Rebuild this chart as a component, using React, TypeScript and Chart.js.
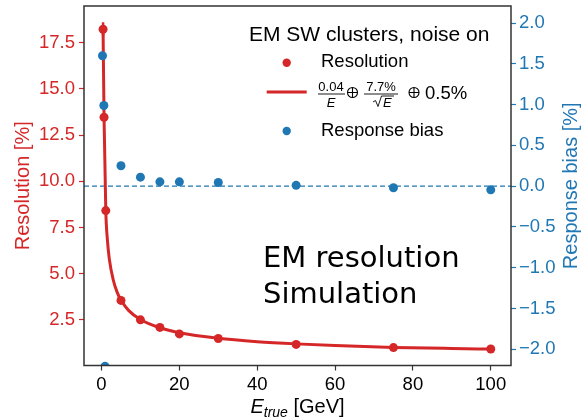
import React, { useEffect, useRef } from "react";
import { Chart, registerables } from "chart.js";

Chart.register(...registerables);

// ---- data ----
const resEnergy = [0.4, 0.65, 1.1, 5, 10, 15, 20, 30, 50, 75, 100];
const resValues = [18.22, 13.46, 8.41, 3.55, 2.5, 2.09, 1.74, 1.49, 1.17, 1.0, 0.92];
const resErrors = [0.38, 0.15, 0.08, 0.03, 0.02, 0.02, 0.02, 0.01, 0.01, 0.01, 0.01];
const biasEnergy = [0.25, 0.6, 0.9, 5, 10, 15, 20, 30, 50, 75, 100];
const biasValues = [1.6, 0.99, -2.21, 0.25, 0.11, 0.053, 0.053, 0.045, 0.01, -0.02, -0.045];
const fitEnergy = [0.4, 0.65, 1.1, 1.5, 2, 3, 4, 5, 7, 10, 15, 20, 30, 40, 50, 60, 75, 90, 100];
const fitValues = [18.2, 13.45, 8.4, 6.85, 5.8, 4.67, 4.0, 3.57, 3.0, 2.52, 2.07, 1.8, 1.5, 1.32, 1.2, 1.11, 1.01, 0.95, 0.92];
const xTicks = [0, 20, 40, 60, 80, 100];
const resTicks = [2.5, 5, 7.5, 10, 12.5, 15, 17.5];
const biasTicks = [-2, -1.5, -1, -0.5, 0, 0.5, 1, 1.5, 2];
const xRange = [-4.5, 105.2];
const resRange = [0.03, 19.48];
const biasRange = [-2.2, 2.21];

const RED = "#d62728";
const BLUE = "#1f77b4";
const FONT = "'Liberation Sans', Arial, Helvetica, sans-serif";

function drawOplus(ctx: CanvasRenderingContext2D, cx: number, cy: number, r: number) {
  ctx.beginPath();
  ctx.arc(cx, cy, r, 0, Math.PI * 2);
  ctx.moveTo(cx - r, cy);
  ctx.lineTo(cx + r, cy);
  ctx.moveTo(cx, cy - r);
  ctx.lineTo(cx, cy + r);
  ctx.stroke();
}

const overlay = {
  id: "overlay",
  beforeDatasetsDraw(chart: any) {
    const { ctx, scales } = chart;
    const x = scales.x;
    const y = scales.y;
    ctx.save();
    ctx.strokeStyle = RED;
    ctx.lineWidth = 2.5;
    resEnergy.forEach((e, i) => {
      const px = x.getPixelForValue(e);
      ctx.beginPath();
      ctx.moveTo(px, y.getPixelForValue(resValues[i] - resErrors[i]));
      ctx.lineTo(px, y.getPixelForValue(resValues[i] + resErrors[i]));
      ctx.stroke();
    });
    ctx.restore();
  },
  afterDraw(chart: any) {
    const { ctx, chartArea } = chart;
    const { left, right, top, bottom } = chartArea;
    ctx.save();
    // frame
    ctx.strokeStyle = "#333";
    ctx.lineWidth = 1.5;
    ctx.strokeRect(left, top, right - left, bottom - top);

    // axis titles
    ctx.font = `20px ${FONT}`;
    ctx.textAlign = "center";
    ctx.textBaseline = "middle";
    ctx.fillStyle = RED;
    ctx.save();
    ctx.translate(23, (top + bottom) / 2);
    ctx.rotate(-Math.PI / 2);
    ctx.fillText("Resolution [%]", 0, 0);
    ctx.restore();
    ctx.fillStyle = BLUE;
    ctx.save();
    ctx.translate(571, (top + bottom) / 2);
    ctx.rotate(-Math.PI / 2);
    ctx.fillText("Response bias [%]", 0, 0);
    ctx.restore();

    // x title: E_true [GeV]
    ctx.fillStyle = "#000";
    ctx.textBaseline = "alphabetic";
    ctx.textAlign = "left";
    const big = `italic 20px ${FONT}`;
    const sub = `italic 14px ${FONT}`;
    const reg = `20px ${FONT}`;
    ctx.font = big;
    const wE = ctx.measureText("E").width;
    ctx.font = sub;
    const wT = ctx.measureText("true").width;
    ctx.font = reg;
    const wG = ctx.measureText(" [GeV]").width;
    const total = wE + wT + wG;
    let cx = (left + right) / 2 - total / 2;
    const base = 413;
    ctx.font = big;
    ctx.fillText("E", cx, base);
    cx += wE;
    ctx.font = sub;
    ctx.fillText("true", cx, base + 4);
    cx += wT;
    ctx.font = reg;
    ctx.fillText(" [GeV]", cx, base);

    // legend
    ctx.fillStyle = "#000";
    ctx.font = `21px ${FONT}`;
    ctx.fillText("EM SW clusters, noise on", 249, 40.7);
    ctx.font = `18.5px ${FONT}`;
    ctx.fillStyle = RED;
    ctx.beginPath();
    ctx.arc(286.7, 62.7, 4.2, 0, Math.PI * 2);
    ctx.fill();
    ctx.fillStyle = "#000";
    ctx.fillText("Resolution", 321, 67.3);
    ctx.strokeStyle = RED;
    ctx.lineWidth = 3;
    ctx.beginPath();
    ctx.moveTo(266.7, 92);
    ctx.lineTo(306.7, 92);
    ctx.stroke();
    // math label
    ctx.fillStyle = "#000";
    ctx.strokeStyle = "#000";
    ctx.textAlign = "center";
    ctx.font = `13px ${FONT}`;
    ctx.fillText("0.04", 331, 91);
    ctx.font = `italic 13px ${FONT}`;
    ctx.fillText("E", 331, 106.5);
    ctx.lineWidth = 0.9;
    ctx.beginPath();
    ctx.moveTo(318, 94);
    ctx.lineTo(345, 94);
    ctx.stroke();
    ctx.lineWidth = 1.1;
    drawOplus(ctx, 352.5, 92.5, 5);
    ctx.font = `13px ${FONT}`;
    ctx.fillText("7.7%", 381, 91);
    ctx.lineWidth = 0.9;
    ctx.beginPath();
    ctx.moveTo(364, 94);
    ctx.lineTo(398, 94);
    ctx.stroke();
    // radical
    ctx.beginPath();
    ctx.moveTo(373, 102);
    ctx.lineTo(375.5, 100.5);
    ctx.lineTo(378, 106.5);
    ctx.lineTo(381.5, 96);
    ctx.lineTo(394, 96);
    ctx.stroke();
    ctx.font = `italic 13px ${FONT}`;
    ctx.textAlign = "left";
    ctx.fillText("E", 383, 106.5);
    ctx.lineWidth = 1.1;
    drawOplus(ctx, 414, 92.5, 5);
    ctx.font = `18.5px ${FONT}`;
    ctx.fillText("0.5%", 425, 98.5);
    // response bias entry
    ctx.fillStyle = BLUE;
    ctx.beginPath();
    ctx.arc(286.7, 131, 4.2, 0, Math.PI * 2);
    ctx.fill();
    ctx.fillStyle = "#000";
    ctx.font = `18.5px ${FONT}`;
    ctx.fillText("Response bias", 321, 135.5);

    // overlaid annotation
    ctx.font = `29px 'DejaVu Sans', sans-serif`;
    ctx.fillStyle = "#000";
    ctx.fillText("EM resolution", 263, 266.7);
    ctx.fillText("Simulation", 263, 303.3);
    ctx.restore();
  },
};

export default function App() {
  const canvasRef = useRef<HTMLCanvasElement | null>(null);

  useEffect(() => {
    document.body.style.margin = "0";
    const canvas = canvasRef.current;
    if (!canvas) return;
    const noPadV = (s: any) => {
      s.paddingTop = 0;
      s.paddingBottom = 0;
    };
    const chart = new Chart(canvas, {
      type: "scatter",
      data: {
        datasets: [
          {
            label: "Response bias",
            data: biasEnergy.map((e, i) => ({ x: e, y: biasValues[i] })),
            yAxisID: "y2",
            backgroundColor: BLUE,
            borderColor: BLUE,
            pointRadius: 4.5,
            pointBorderWidth: 0,
            showLine: false,
            clip: 0,
            order: 0,
          },
          {
            label: "Resolution",
            data: resEnergy.map((e, i) => ({ x: e, y: resValues[i] })),
            yAxisID: "y",
            backgroundColor: RED,
            borderColor: RED,
            pointRadius: 4.5,
            pointBorderWidth: 0,
            showLine: false,
            order: 1,
          },
          {
            label: "Fit",
            data: fitEnergy.map((e, i) => ({ x: e, y: fitValues[i] })),
            yAxisID: "y",
            borderColor: RED,
            backgroundColor: RED,
            borderWidth: 3,
            pointRadius: 0,
            showLine: true,
            cubicInterpolationMode: "monotone",
            order: 2,
          },
          {
            label: "zero",
            data: [
              { x: xRange[0], y: 0 },
              { x: xRange[1], y: 0 },
            ],
            yAxisID: "y2",
            borderColor: BLUE,
            borderWidth: 1.3,
            borderDash: [5, 3],
            pointRadius: 0,
            showLine: true,
            order: 3,
          },
        ],
      } as any,
      options: {
        animation: false,
        responsive: false,
        layout: { padding: { top: 6, left: 0, right: 0, bottom: 0 } },
        plugins: { legend: { display: false }, tooltip: { enabled: false } },
        scales: {
          x: {
            type: "linear",
            position: "bottom",
            min: xRange[0],
            max: xRange[1],
            afterFit: (s: any) => {
              s.height = 52.5;
              s.paddingLeft = 0;
              s.paddingRight = 0;
            },
            afterBuildTicks: (s: any) => {
              s.ticks = xTicks.map((v) => ({ value: v }));
            },
            ticks: {
              color: "#000",
              font: { family: FONT, size: 18.5 },
              padding: 3,
              maxRotation: 0,
              autoSkip: false,
              callback: (v: any) => String(v),
            },
            grid: { drawOnChartArea: false, tickLength: 5, tickColor: "#333", tickWidth: 1.2 },
            border: { display: false },
          },
          y: {
            type: "linear",
            position: "left",
            min: resRange[0],
            max: resRange[1],
            afterFit: (s: any) => {
              s.width = 84;
              noPadV(s);
            },
            afterBuildTicks: (s: any) => {
              s.ticks = resTicks.map((v) => ({ value: v }));
            },
            ticks: {
              color: RED,
              font: { family: FONT, size: 18.5 },
              padding: 4,
              autoSkip: false,
              callback: (v: any) => Number(v).toFixed(1),
            },
            grid: { drawOnChartArea: false, tickLength: 5, tickColor: RED, tickWidth: 1.2 },
            border: { display: false },
          },
          y2: {
            type: "linear",
            position: "right",
            min: biasRange[0],
            max: biasRange[1],
            afterFit: (s: any) => {
              s.width = 71;
              noPadV(s);
            },
            afterBuildTicks: (s: any) => {
              s.ticks = biasTicks.map((v) => ({ value: v }));
            },
            ticks: {
              color: BLUE,
              font: { family: FONT, size: 18.5 },
              padding: 3,
              autoSkip: false,
              callback: (v: any) => {
                const n = Number(v);
                return (n < 0 ? "\u2212" : "") + Math.abs(n).toFixed(1);
              },
            },
            grid: { drawOnChartArea: false, tickLength: 5, tickColor: BLUE, tickWidth: 1.2 },
            border: { display: false },
          },
        },
      } as any,
      plugins: [overlay],
    });
    return () => chart.destroy();
  }, []);

  return (
    <div style={{ width: 582, height: 418, background: "#fff" }}>
      <canvas ref={canvasRef} width={582} height={418} style={{ display: "block" }} />
    </div>
  );
}
